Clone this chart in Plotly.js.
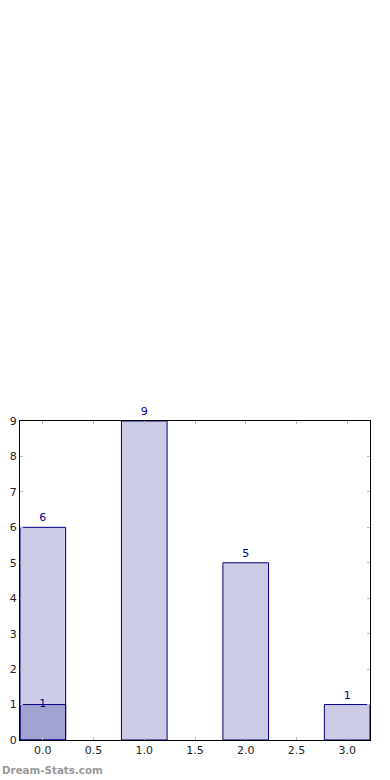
<!DOCTYPE html>
<html>
<head>
<meta charset="utf-8">
<script src="https://cdn.plot.ly/plotly-3.0.1.min.js"></script>
<style>html,body{margin:0;padding:0;background:#fff;}#chart{width:390px;height:780px;}</style>
</head>
<body>
<div id="chart"></div>
<script>
const categories = [0, 1, 2, 3];
const totalValues = [6, 9, 5, 1];
const subsetValues = [1, 0, 0, 0];
const xTickVals = [0, 0.5, 1, 1.5, 2, 2.5, 3];
const xTickText = ['0.0', '0.5', '1.0', '1.5', '2.0', '2.5', '3.0'];
const yTickVals = [0, 1, 2, 3, 4, 5, 6, 7, 8, 9];

const barFill = 'rgba(0,0,128,0.2)';
const edge = '#000080';
const labelColor = '#00008B';

const subX = categories.filter((c, i) => subsetValues[i] > 0);
const subY = subsetValues.filter(v => v > 0);

const traces = [
  {type: 'bar', x: categories, y: totalValues, width: 0.45,
   marker: {color: barFill, line: {color: edge, width: 1}}, hoverinfo: 'skip',
   text: totalValues.map(String), textposition: 'outside', constraintext: 'none',
   textfont: {family: 'DejaVu Sans', size: 11, color: labelColor}, cliponaxis: false},
  {type: 'bar', x: subX, y: subY, width: 0.45,
   marker: {color: barFill, line: {color: edge, width: 1}}, hoverinfo: 'skip'},
  {type: 'scatter', mode: 'text', x: subX, y: subY,
   text: subY.map(String), textposition: 'middle center',
   textfont: {family: 'DejaVu Sans', size: 11, color: labelColor}, cliponaxis: false, hoverinfo: 'skip'}
];

const axisCommon = {
  showline: true, linecolor: '#000', linewidth: 1, mirror: 'ticks',
  ticks: 'inside', ticklen: 3, tickcolor: '#bbbbbb', tickwidth: 1,
  showgrid: false, zeroline: false,
  tickfont: {family: 'DejaVu Sans', size: 11, color: '#222'}
};

const layout = {
  width: 390, height: 780,
  margin: {l: 19.5, r: 19.7, t: 420.7, b: 39.7},
  paper_bgcolor: '#fff', plot_bgcolor: '#fff',
  barmode: 'overlay', showlegend: false,
  xaxis: Object.assign({}, axisCommon, {range: [-0.225, 3.225], tickvals: xTickVals, ticktext: xTickText}),
  yaxis: Object.assign({}, axisCommon, {range: [0, 9], tickvals: yTickVals, ticklabelstandoff: 0}),
  annotations: [{
    text: 'Dream-Stats.com', xref: 'paper', yref: 'paper', x: -0.058, y: -0.093,
    xanchor: 'left', yanchor: 'middle', showarrow: false,
    font: {family: 'DejaVu Sans', size: 10.3, color: '#999', weight: 'bold'}
  }]
};

Plotly.newPlot('chart', traces, layout, {displayModeBar: false, staticPlot: true});
</script>
</body>
</html>
